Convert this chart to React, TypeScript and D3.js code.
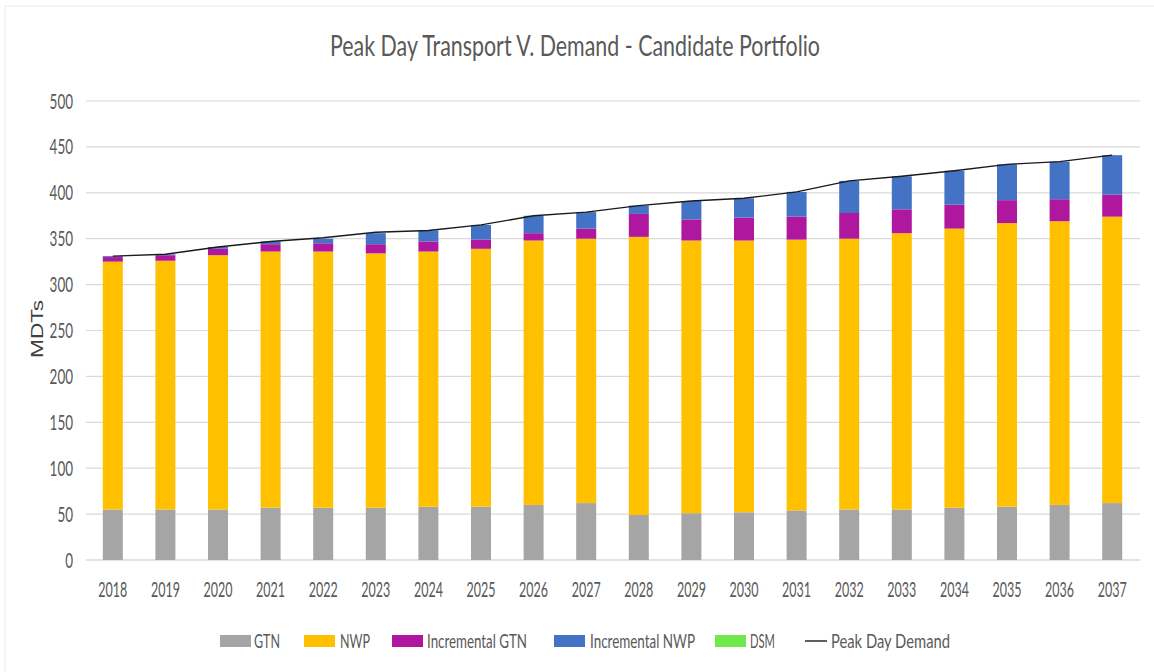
import React from 'react';
import * as d3 from 'd3';

const years = ['2018','2019','2020','2021','2022','2023','2024','2025','2026','2027','2028','2029','2030','2031','2032','2033','2034','2035','2036','2037'];
const gtn = [55,55,55,57,57,57,58,58,60,62,49,51,52,54,55,55,57,58,60,62];
const nwp = [270,271,277,279,279,277,278,281,288,288,303,297,296,295,295,301,304,309,309,312];
const incrementalGtn = [5,6,7,8,9,10,11,10,8,11,25,23,25,25,28,26,26,25,24,24];
const incrementalNwp = [1,1,2,3,5,12,12,16,19,18,9,20,21,27,35,36,37,39,41,43];
const dsm = [0,0,0,0,0,0,0,0,0,0,0,0,0,0,0,0,0,0,0,0];
const peakDayDemand = [331,333,341,347,351,357,359,365,375,379,386,391,394,401,413,418,424,431,434,441];
const yTicks = [0,50,100,150,200,250,300,350,400,450,500];

const seriesNames = ['GTN','NWP','Incremental GTN','Incremental NWP','DSM'];
const seriesValues = [gtn, nwp, incrementalGtn, incrementalNwp, dsm];
const colors = ['#A5A5A5','#FFC000','#B0179F','#4472C4','#6EE84A'];

const W = 1154, H = 672;
const FONT = 'Lato, "Open Sans", sans-serif';
const TXT = '#595959';

function T(props: any) {
  const { x, y, len, size, anchor = 'start', fill = TXT, children, transform, family = FONT } = props;
  return (
    <text x={x} y={y} fontSize={size} fontFamily={family} fill={fill} textAnchor={anchor}
      textLength={len} lengthAdjust="spacingAndGlyphs" transform={transform}>{children}</text>
  );
}

export default function App() {
  const rows = years.map((yr, i) => {
    const r: any = { year: yr };
    seriesNames.forEach((s, k) => { r[s] = seriesValues[k][i]; });
    return r;
  });
  const stacked = d3.stack().keys(seriesNames)(rows as any);

  const x = d3.scaleBand().domain(years).range([86.5, 1138.5]).paddingInner(0.62).paddingOuter(0.31);
  const y = d3.scaleLinear().domain([0, 500]).range([560, 101]);
  const cx = (yr: string) => (x(yr) as number) + x.bandwidth() / 2;

  const line = d3.line<number>().x((_, i) => cx(years[i])).y(d => y(d));

  const legendItems = [
    { name: 'GTN', sx: 220, tx: 254, len: 26 },
    { name: 'NWP', sx: 304, tx: 340, len: 30 },
    { name: 'Incremental GTN', sx: 392, tx: 427, len: 100 },
    { name: 'Incremental NWP', sx: 554, tx: 590, len: 105 },
    { name: 'DSM', sx: 715, tx: 750, len: 25 },
  ];
  const legendY = 641;

  return (
    <svg width={W} height={H} style={{ position: 'absolute', left: 0, top: 0, background: '#fff' }}>
      <rect x={5} y={6} width={W + 20} height={H + 20} fill="#fff" stroke="#ebebeb" strokeWidth={1} />
      <T x={575} y={56} size={29} len={490} anchor="middle">Peak Day Transport V. Demand - Candidate Portfolio</T>

      {yTicks.map(t => (
        <g key={t}>
          <line x1={86} x2={1140} y1={y(t)} y2={y(t)} stroke="#d9d9d9" strokeWidth={t === 0 ? 1.5 : 1.2} />
          <T x={73} y={y(t) + 7.5} size={21} len={String(t).length * 7.8} anchor="end">{t}</T>
        </g>
      ))}

      {stacked.map((s, k) => (
        <g key={seriesNames[k]} fill={colors[k]}>
          {s.map((d, i) => (
            <rect key={i} x={x(years[i])} width={x.bandwidth()} y={y(d[1])} height={Math.max(0, y(d[0]) - y(d[1]))} />
          ))}
        </g>
      ))}

      <path d={line(peakDayDemand) || ''} fill="none" stroke="#1a1a1a" strokeWidth={1.4} />

      {years.map(yr => (
        <T key={yr} x={cx(yr)} y={597} size={21} len={29} anchor="middle">{yr}</T>
      ))}

      <T x={0} y={0} size={17} len={58} anchor="middle" fill="#404040" family='"Liberation Sans", Arial, sans-serif'
        transform={`translate(43,329) rotate(-90)`}>MDTs</T>

      {legendItems.map((it, k) => (
        <g key={it.name}>
          <rect x={it.sx} y={legendY - 6} width={31} height={12} fill={colors[k]} />
          <T x={it.tx} y={legendY + 7} size={19} len={it.len}>{it.name}</T>
        </g>
      ))}
      <line x1={805} x2={827} y1={legendY} y2={legendY} stroke="#1a1a1a" strokeWidth={1.4} />
      <T x={831} y={legendY + 7} size={19} len={119}>Peak Day Demand</T>
    </svg>
  );
}
